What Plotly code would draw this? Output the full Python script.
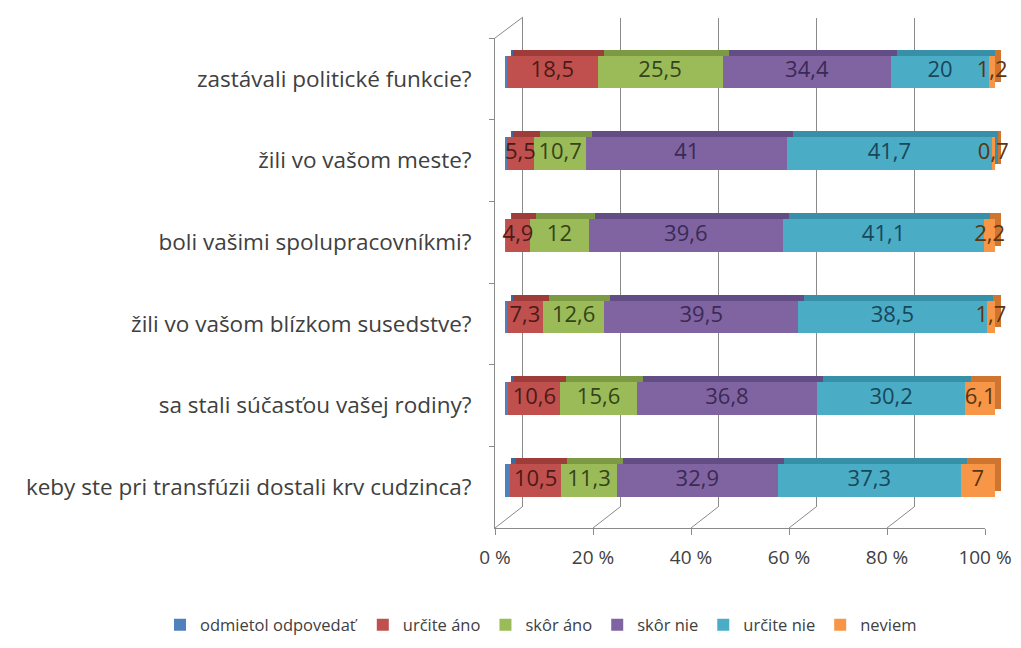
import plotly.graph_objects as go

questions = [
    "zastávali politické funkcie?",
    "žili vo vašom meste?",
    "boli vašimi spolupracovníkmi?",
    "žili vo vašom blízkom susedstve?",
    "sa stali súčasťou vašej rodiny?",
    "keby ste pri transfúzii dostali krv cudzinca?",
]
series_names = ["odmietol odpovedať", "určite áno", "skôr áno", "skôr nie", "určite nie", "neviem"]

odmietol = [0.4, 0.4, 0.2, 0.4, 0.7, 1.0]
urcite_ano = [18.5, 5.5, 4.9, 7.3, 10.6, 10.5]
skor_ano = [25.5, 10.7, 12, 12.6, 15.6, 11.3]
skor_nie = [34.4, 41, 39.6, 39.5, 36.8, 32.9]
urcite_nie = [20, 41.7, 41.1, 38.5, 30.2, 37.3]
neviem = [1.2, 0.7, 2.2, 1.7, 6.1, 7]

ticks = [0, 20, 40, 60, 80, 100]
tick_labels = ["0 %", "20 %", "40 %", "60 %", "80 %", "100 %"]

all_values = [odmietol, urcite_ano, skor_ano, skor_nie, urcite_nie, neviem]
colors = ["#4f81bd", "#c0504d", "#9bbb59", "#8064a2", "#4bacc6", "#f79646"]
top_colors = ["#3d6a9e", "#9e3c39", "#7c9944", "#634d85", "#3790a8", "#cf7530"]
text_colors = ["#1f3550", "#4d1a19", "#34441a", "#3a2a55", "#17485a", "#5a3510"]

FONT = "Open Sans"
OFF = 8  # page body margin
W, H = 1021 - 2 * OFF, 648 - 2 * OFF
GRID = "#8a8a8a"


def fmt(v):
    return f"{v:g}".replace(".", ",")


def dom_x(a, b):
    return [(a - OFF) / W, (b - OFF) / W]


def dom_y(top, bottom):
    return [1 - (bottom - OFF) / H, 1 - (top - OFF) / H]


def py(y):
    return 1 - (y - OFF) / H


fig = go.Figure()

# back wall holder (so its grid gets drawn)
fig.add_trace(go.Scatter(x=[0], y=[0], mode="markers", marker=dict(opacity=0),
                         xaxis="x", yaxis="y", showlegend=False, hoverinfo="skip"))

# shadow bars (top/side faces), drawn behind
for name, vals, c in zip(series_names, all_values, top_colors):
    fig.add_trace(go.Bar(
        y=questions, x=vals, orientation="h", name=name,
        marker=dict(color=c, line=dict(width=0)),
        xaxis="x2", yaxis="y2", showlegend=False, hoverinfo="skip",
    ))

# front bars
for name, vals, c in zip(series_names, all_values, colors):
    fig.add_trace(go.Bar(
        y=questions, x=vals, orientation="h", name=name,
        marker=dict(color=c, line=dict(width=0)),
        xaxis="x3", yaxis="y3", hoverinfo="x+name",
    ))

# value labels at the middle of each segment
base = [0.0] * len(questions)
for i, (vals, tc) in enumerate(zip(all_values, text_colors)):
    mids = [b + v / 2 for b, v in zip(base, vals)]
    base = [b + v for b, v in zip(base, vals)]
    if i == 0:
        continue
    fig.add_trace(go.Scatter(
        x=mids, y=questions, mode="text", text=[fmt(v) for v in vals],
        textposition="middle center", cliponaxis=False,
        textfont=dict(family=FONT, size=22, color=tc),
        xaxis="x3", yaxis="y3", showlegend=False, hoverinfo="skip",
    ))

# front axis holder
fig.add_trace(go.Scatter(
    x=[0] * len(questions), y=questions, mode="markers",
    marker=dict(opacity=0), xaxis="x4", yaxis="y4",
    showlegend=False, hoverinfo="skip",
))

cat_common = dict(type="category", categoryorder="array", categoryarray=questions,
                  range=[len(questions) - 0.5, -0.5], automargin=False)

fig.update_layout(
    width=W, height=H,
    margin=dict(l=0, r=0, t=0, b=0, pad=0, autoexpand=False),
    paper_bgcolor="white", plot_bgcolor="rgba(0,0,0,0)",
    barmode="stack", bargap=0.6,
    font=dict(family=FONT, color="#404040"),
    # back wall
    xaxis=dict(domain=dom_x(523, 1012), range=[0, 100], tickvals=ticks,
               showgrid=True, gridcolor=GRID, gridwidth=1, automargin=False,
               showticklabels=False, zeroline=False, anchor="y", fixedrange=True),
    yaxis=dict(domain=dom_y(18, 507), range=[0, 1], showgrid=False,
               showline=True, linecolor=GRID, showticklabels=False, automargin=False,
               zeroline=False, anchor="x", fixedrange=True),
    # shadow bars
    xaxis2=dict(domain=dom_x(511, 1001), range=[0, 100], visible=False,
                automargin=False, anchor="y2", fixedrange=True),
    yaxis2=dict(domain=dom_y(25, 515), visible=False, anchor="x2",
                fixedrange=True, **cat_common),
    # front bars
    xaxis3=dict(domain=dom_x(505, 995), range=[0, 100], visible=False,
                automargin=False, anchor="y3", fixedrange=True),
    yaxis3=dict(domain=dom_y(31, 521), visible=False, anchor="x3",
                fixedrange=True, **cat_common),
    # front axes
    xaxis4=dict(domain=dom_x(495, 985), range=[0, 100], tickvals=ticks,
                ticktext=tick_labels, showgrid=False, zeroline=False,
                showline=True, linecolor=GRID, ticks="outside", ticklen=6,
                tickcolor=GRID, ticklabelstandoff=6, automargin=False,
                tickfont=dict(family=FONT, size=19, color="#404040"),
                anchor="y4", fixedrange=True),
    yaxis4=dict(domain=dom_y(38, 528), showgrid=False, zeroline=False,
                showline=True, linecolor=GRID, ticks="outside", ticklen=5,
                tickcolor=GRID, tickson="boundaries", ticklabelstandoff=18,
                tickfont=dict(family=FONT, size=22.5, color="#404040"),
                anchor="x4", fixedrange=True, **cat_common),
    legend=dict(orientation="h", x=(541 - OFF) / W, xanchor="center", y=py(625),
                yanchor="middle", font=dict(family=FONT, size=16.5, color="#404040"),
                traceorder="normal"),
)

# floor diagonals from the front ticks back to the wall, and the left wall top edge
for v in ticks:
    fig.add_shape(type="line", xref="x4", yref="paper",
                  xsizemode="pixel", ysizemode="pixel",
                  xanchor=v, yanchor=py(528), x0=0, x1=27, y0=0, y1=21,
                  line=dict(color=GRID, width=1))
fig.add_shape(type="line", xref="x4", yref="paper",
              xsizemode="pixel", ysizemode="pixel",
              xanchor=0, yanchor=py(38), x0=0, x1=28, y0=0, y1=21,
              line=dict(color=GRID, width=1))

fig.write_html("out.html")
